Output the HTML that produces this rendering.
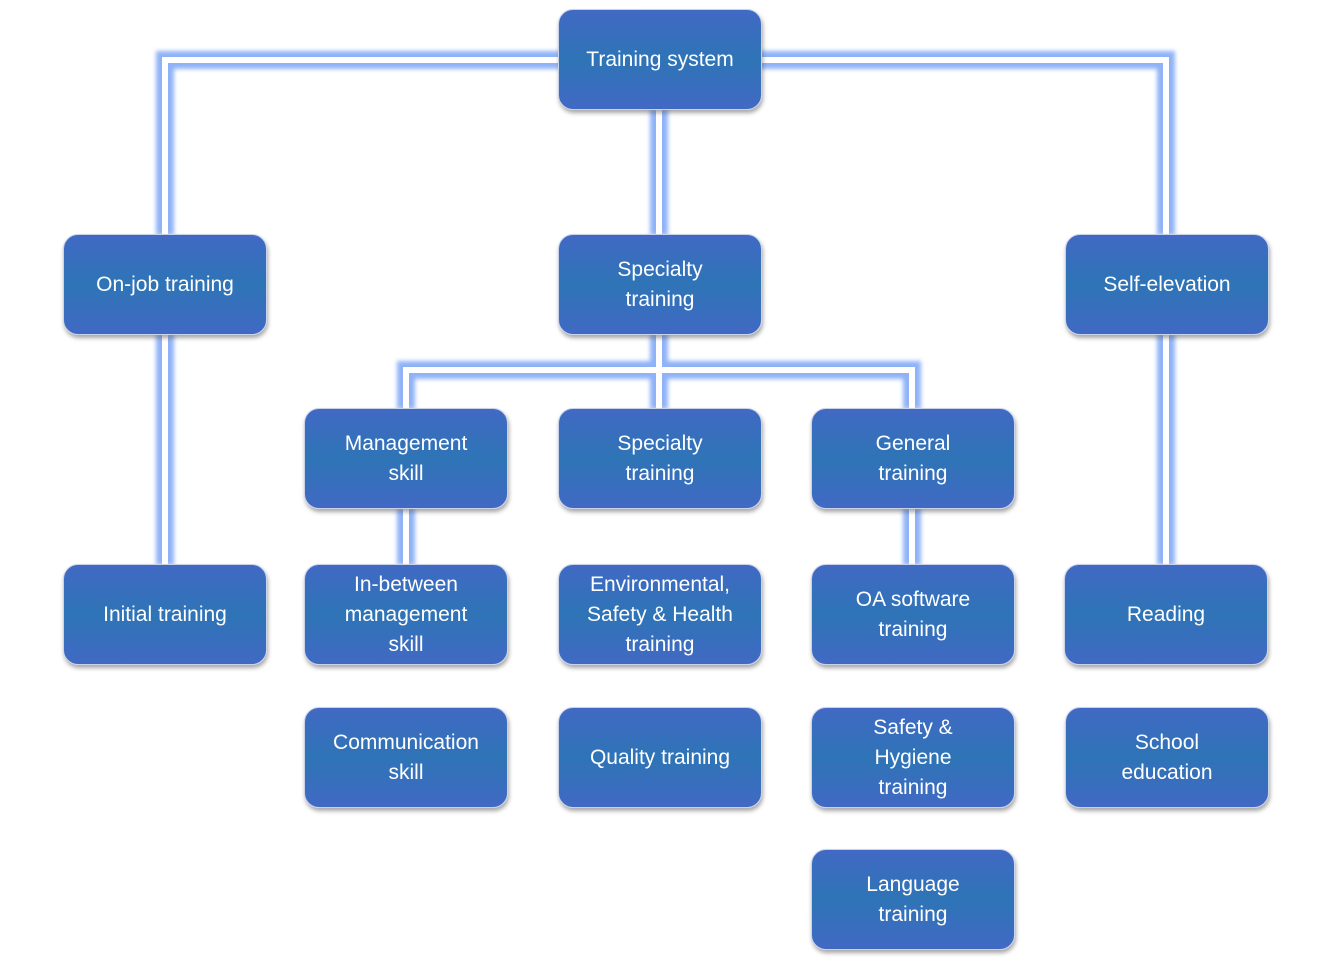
<!DOCTYPE html>
<html><head><meta charset="utf-8"><style>
body{margin:0;background:#fff;width:1333px;height:962px;position:relative;overflow:hidden;font-family:"Liberation Sans",sans-serif}
svg{position:absolute;left:0;top:0}
.b{position:absolute;width:204px;height:101px;border-radius:15px;background:linear-gradient(#4169c4 0%,#2e74b6 50%,#4169c4 100%);border:1px solid #c9d3e8;box-shadow:1px 3px 4px rgba(0,0,0,.35);color:#fff;font-size:21px;line-height:30px;display:flex;align-items:center;justify-content:center;text-align:center;box-sizing:border-box}
</style></head><body>
<svg width="1333" height="962">
<defs><filter id="g" x="-10%" y="-10%" width="120%" height="120%"><feGaussianBlur stdDeviation="2"/></filter></defs>
<g fill="none" stroke="#8fb2f7" stroke-width="18" filter="url(#g)" stroke-linejoin="miter">
<polyline points="560,60 165,60 165,235"/>
<polyline points="760,60 1166,60 1166,235"/>
<line x1="659" y1="110" x2="659" y2="235"/>
<polyline points="406,409 406,370 912,370 912,409"/>
<line x1="659" y1="335" x2="659" y2="409"/>
<line x1="165" y1="335" x2="165" y2="565"/>
<line x1="406" y1="509" x2="406" y2="565"/>
<line x1="912" y1="509" x2="912" y2="565"/>
<line x1="1166" y1="335" x2="1166" y2="565"/>
</g>
<g fill="none" stroke="#fff" stroke-width="6">
<polyline points="560,60 165,60 165,235"/>
<polyline points="760,60 1166,60 1166,235"/>
<line x1="659" y1="110" x2="659" y2="235"/>
<polyline points="406,409 406,370 912,370 912,409"/>
<line x1="659" y1="335" x2="659" y2="409"/>
<line x1="165" y1="335" x2="165" y2="565"/>
<line x1="406" y1="509" x2="406" y2="565"/>
<line x1="912" y1="509" x2="912" y2="565"/>
<line x1="1166" y1="335" x2="1166" y2="565"/>
</g>
</svg>
<div class="b" style="left:558px;top:9px">Training system</div>
<div class="b" style="left:63px;top:234px">On-job training</div>
<div class="b" style="left:558px;top:234px">Specialty<br>training</div>
<div class="b" style="left:1065px;top:234px">Self-elevation</div>
<div class="b" style="left:304px;top:408px">Management<br>skill</div>
<div class="b" style="left:558px;top:408px">Specialty<br>training</div>
<div class="b" style="left:811px;top:408px">General<br>training</div>
<div class="b" style="left:63px;top:564px">Initial training</div>
<div class="b" style="left:304px;top:564px">In-between<br>management<br>skill</div>
<div class="b" style="left:558px;top:564px">Environmental,<br>Safety &amp; Health<br>training</div>
<div class="b" style="left:811px;top:564px">OA software<br>training</div>
<div class="b" style="left:1064px;top:564px">Reading</div>
<div class="b" style="left:304px;top:707px">Communication<br>skill</div>
<div class="b" style="left:558px;top:707px">Quality training</div>
<div class="b" style="left:811px;top:707px">Safety &amp;<br>Hygiene<br>training</div>
<div class="b" style="left:1065px;top:707px">School<br>education</div>
<div class="b" style="left:811px;top:849px">Language<br>training</div>
</body></html>
